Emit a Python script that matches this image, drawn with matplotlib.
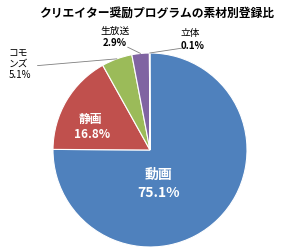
import matplotlib.pyplot as plt
import numpy as np

plt.rcParams['font.family'] = ['Noto Sans CJK JP', 'DejaVu Sans']

# data
names = ['動画', '静画', 'コモンズ', '生放送', '立体']
shares = [75.1, 16.8, 5.1, 2.9, 0.1]
pct_labels = ['75.1%', '16.8%', '5.1%', '2.9%', '0.1%']
colors = ['#4F81BD', '#C0504D', '#9BBB59', '#8064A2', '#4BACC6']

fig = plt.figure(figsize=(2.9, 2.52), dpi=100)
ax = fig.add_axes([53 / 290, 5 / 252, 194 / 290, 194 / 252])

wedges, _ = ax.pie(shares, colors=colors, startangle=90, counterclock=False,
                   radius=1.0, wedgeprops=dict(edgecolor='white', linewidth=0.8))
ax.set_xlim(-1, 1)
ax.set_ylim(-1, 1)
ax.set_aspect('equal')
ax.axis('off')

def mid_point(w):
    a = np.deg2rad((w.theta1 + w.theta2) / 2)
    return np.cos(a), np.sin(a)

# inside labels
ax.text(0.09, -0.26, names[0], ha='center', va='center', color='white',
        fontsize=10, fontweight='bold')
ax.text(0.09, -0.44, pct_labels[0], ha='center', va='center', color='white',
        fontsize=10, fontweight='bold')
ax.text(-0.61, 0.31, names[1], ha='center', va='center', color='white',
        fontsize=8.5, fontweight='bold')
ax.text(-0.60, 0.155, pct_labels[1], ha='center', va='center', color='white',
        fontsize=8.5, fontweight='bold')

# outside labels with leader lines
line_kw = dict(arrowstyle='-', color='#7f7f7f', lw=0.6, shrinkA=0, shrinkB=0)

ax.text(-1.46, 0.885, 'コモ\nンズ\n' + pct_labels[2], ha='left', va='center',
        fontsize=7, linespacing=1.15)
ax.annotate('', xy=mid_point(wedges[2]), xytext=(-1.16, 0.87), arrowprops=line_kw)

ax.text(-0.36, 1.23, names[3], ha='center', va='center', fontsize=7)
ax.text(-0.36, 1.10, pct_labels[3], ha='center', va='center', fontsize=7,
        fontweight='bold')
ax.annotate('', xy=mid_point(wedges[3]), xytext=(-0.23, 1.06), arrowprops=line_kw)

ax.text(0.42, 1.21, names[4], ha='center', va='center', fontsize=7)
ax.text(0.44, 1.07, pct_labels[4], ha='center', va='center', fontsize=7,
        fontweight='bold')
ax.annotate('', xy=mid_point(wedges[4]), xytext=(0.33, 1.05), arrowprops=line_kw)

fig.text(0.54, 1 - 13 / 252, 'クリエイター奨励プログラムの素材別登録比',
         ha='center', va='center', fontsize=8.5, fontweight='bold')

fig.savefig('out.png', dpi=100)
